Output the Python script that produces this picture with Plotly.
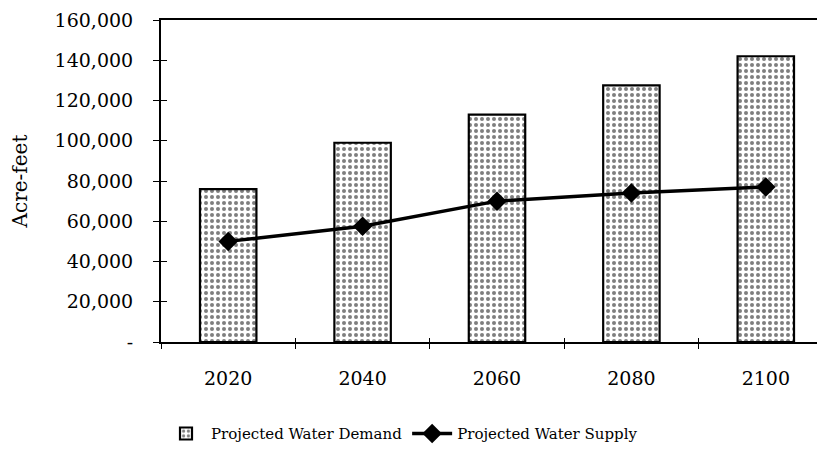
import plotly.graph_objects as go

years = ["2020", "2040", "2060", "2080", "2100"]
demand = [76000, 99000, 113000, 127500, 142000]
supply = [50000, 57500, 70000, 74000, 77000]
y_tickvals = [0, 20000, 40000, 60000, 80000, 100000, 120000, 140000, 160000]
y_ticktext = ["-", "20,000", "40,000", "60,000", "80,000", "100,000", "120,000", "140,000", "160,000"]

FONT = "DejaVu Serif"

fig = go.Figure()
fig.add_trace(go.Bar(
    x=years, y=demand, name="Projected Water Demand",
    width=0.42,
    marker=dict(color="white",
                line=dict(color="black", width=2.2),
                pattern=dict(shape=".", fgcolor="black", bgcolor="white",
                             size=6, solidity=0.35)),
))
fig.add_trace(go.Scatter(
    x=years, y=supply, name="Projected Water Supply",
    xaxis="x2", yaxis="y2",
    mode="lines+markers",
    line=dict(color="black", width=3.5),
    marker=dict(symbol="diamond", size=15, color="black"),
))

# page body adds an 8px offset; margins compensate for it
x_range = [-0.5, 4.5]

fig.update_layout(
    width=825, height=459,
    margin=dict(l=153, r=0, t=12, b=125, autoexpand=False),
    paper_bgcolor="white", plot_bgcolor="white",
    font=dict(family=FONT, size=19, color="black"),
    showlegend=True,
    legend=dict(orientation="h", x=0.0, xanchor="left", y=-0.285, yanchor="middle",
                font=dict(family=FONT, size=15, color="black"),
                itemwidth=40, tracegroupgap=0, traceorder="normal"),
    xaxis=dict(type="category", range=x_range, automargin=False,
               showline=True, linecolor="black", linewidth=2, mirror=True,
               ticks="outside", ticklen=5, tickwidth=1, tickcolor="black",
               tickson="boundaries", showgrid=False, ticklabelstandoff=18,
               ticklabeloverflow="allow",
               tickfont=dict(family=FONT, size=19)),
    xaxis2=dict(type="category", range=x_range, overlaying="x", side="bottom",
                automargin=False, showline=False, showticklabels=False,
                ticks="inside", ticklen=4, tickwidth=1, tickcolor="black",
                tickson="boundaries", showgrid=False),
    yaxis=dict(range=[0, 160000], tickvals=y_tickvals, ticktext=y_ticktext,
               automargin=False, ticklabeloverflow="allow",
               showline=True, linecolor="black", linewidth=2,
               ticks="outside", ticklen=6, tickwidth=1, tickcolor="black",
               showgrid=False, zeroline=False, ticklabelstandoff=16,
               tickfont=dict(family=FONT, size=19),
               title=dict(text="Acre-feet", font=dict(family=FONT, size=20), standoff=26)),
    yaxis2=dict(overlaying="y", side="left", range=[0, 160000], tickvals=y_tickvals,
                automargin=False,
                showticklabels=False, ticks="inside", ticklen=6, tickwidth=1,
                tickcolor="black", showgrid=False, zeroline=False, showline=False),
)

fig.write_html("out.html")
